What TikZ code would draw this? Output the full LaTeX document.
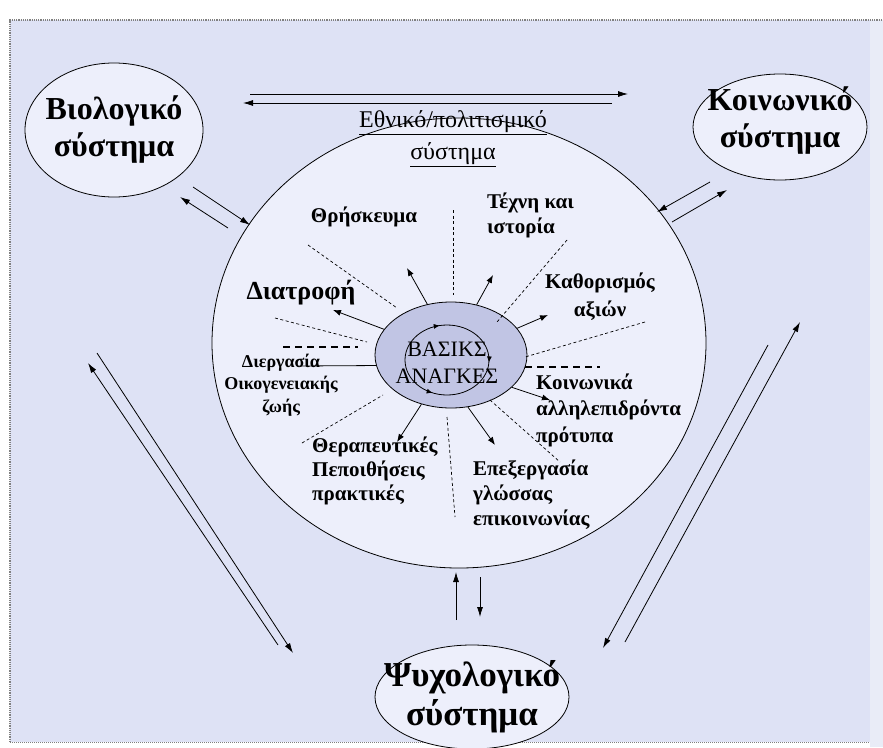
\documentclass[tikz,border=0pt]{standalone}
\usepackage{fontspec}
\setmainfont{Liberation Serif}
\usetikzlibrary{shapes.geometric, arrows.meta, decorations.markings}
\definecolor{paper}{RGB}{222,226,245}
\definecolor{paperedge}{RGB}{233,236,247}
\definecolor{lightin}{RGB}{237,239,251}
\definecolor{core}{RGB}{193,197,228}

\begin{document}
\begin{tikzpicture}[x=1pt, y=-1pt,
  sys/.style={ellipse, draw, fill=lightin, line width=0.8pt, inner sep=0pt},
  systxt/.style={align=center, font=\bfseries\fontsize{32}{37}\selectfont, inner sep=0pt},
  lbl/.style={align=left, font=\bfseries\fontsize{21}{25}\selectfont, inner sep=0pt},
  link/.style={-{Latex[length=10pt,width=6pt]}, line width=0.8pt},
  ray/.style={-{Latex[length=8pt,width=6pt]}, line width=0.8pt},
  divline/.style={dash pattern=on 3pt off 2.5pt, line width=0.7pt},
  barline/.style={dash pattern=on 7pt off 5pt, line width=1.1pt}]
  \useasboundingbox (0,0) rectangle (883,747);
  % paper
  \fill[white] (0,0) rectangle (883,747);
  \fill[paper] (10,20) rectangle (870,742);
  \fill[paperedge] (870,20) rectangle (883,747);
  \draw[gray, densely dotted, line width=1.2pt] (10,742) -- (10,20) -- (883,20);
  \draw[gray, densely dotted, line width=1pt] (10,742) -- (870,742);

  % the systems
  \node[sys, minimum width=494pt, minimum height=450pt] (ethn) at (459,343) {};
  \node[sys, fill=core, minimum width=152pt, minimum height=106pt] (basic) at (451,355) {};
  \node[sys, minimum width=178pt, minimum height=134pt] (bio) at (114,130) {};
  \node[sys, minimum width=174pt, minimum height=106pt] (koin) at (780,127) {};
  \node[sys, minimum width=194pt, minimum height=104pt] (psych) at (472,697) {};
  \node[systxt] (biotxt) at (bio) {Βιολογικό\\σύστημα};
  \node[systxt] (kointxt) at (780,121) {Κοινωνικό\\σύστημα};
  \node[systxt, font=\bfseries\fontsize{35}{39}\selectfont] (psychtxt) at (psych) {Ψυχολογικό\\σύστημα};
  \node[align=center, inner sep=0pt, font=\fontsize{24}{32}\selectfont] (title) at (453,139)
    {\underline{Εθνικό/πολιτισμικό}\\\underline{σύστημα}};

  % core with its loop
  \node[align=center, inner sep=0pt, font=\fontsize{22}{27}\selectfont] (basictxt) at (447,363) {ΒΑΣΙΚΣ\\ΑΝΑΓΚΕΣ};
  \coordinate (loopc) at (447,360);
  \draw[line width=0.8pt, decoration={markings,
      mark=at position 0.01 with {\arrow{Latex[length=6pt,width=5pt]}},
      mark=at position 0.31 with {\arrowreversed{Latex[length=6pt,width=5pt]}},
      mark=at position 0.72 with {\arrow{Latex[length=6pt,width=5pt]}}}, postaction={decorate}]
    (loopc) ellipse [x radius=42, y radius=35];

  % labels
  \node[lbl] (thr) at (364,217) {Θρήσκευμα};
  \node[lbl, anchor=west] (tex) at (487,215) {Τέχνη και\\ιστορία};
  \node[lbl, align=center, font=\bfseries\fontsize{21}{28}\selectfont] (kat) at (600,297) {Καθορισμός\\αξιών};
  \node[lbl, font=\bfseries\fontsize{26}{30}\selectfont] (dia) at (301,293) {Διατροφή};
  \node[lbl, align=center, font=\bfseries\fontsize{18}{22.5}\selectfont] (die) at (281,385) {Διεργασία\\Οικογενειακής\\ζωής};
  \node[lbl, anchor=west, font=\bfseries\fontsize{21}{26.5}\selectfont] (koi) at (536,410) {Κοινωνικά\\αλληλεπιδρόντα\\πρότυπα};
  \node[lbl, anchor=west, font=\bfseries\fontsize{21}{24}\selectfont] (the) at (312,471) {Θεραπευτικές\\Πεποιθήσεις\\πρακτικές};
  \node[lbl, anchor=west] (epe) at (473,495) {Επεξεργασία\\γλώσσας\\επικοινωνίας};

  % dividers
  \foreach \xa/\ya/\xb/\yb in {308/245/397/308, 453/210/453/295, 567/240/497/322, 275/318/367/342,
      645/322/525/357, 302/443/383/395, 447/417/455/517, 490/400/560/462}
    \draw[divline] (\xa,\ya) -- (\xb,\yb);
  \draw[barline] (283,347) -- (358,347);
  \draw[barline] (525,367) -- (600,367);

  % rays out of the core
  \coordinate (rThr) at (407,268);
  \coordinate (rTex) at (493,275);
  \coordinate (rKat) at (548,315);
  \coordinate (rDia) at (333,310);
  \coordinate (rKoi) at (550,400);
  \coordinate (rThe) at (397,442);
  \coordinate (rEpe) at (495,445);
  \coordinate (rDie) at (297,366);
  \draw[ray] (basic.115) -- (rThr);
  \draw[ray] (basic.63) -- (rTex);
  \draw[ray] (basic.22) -- (rKat);
  \draw[ray] (basic.159) -- (rDia);
  \draw[ray] (basic.-28) -- (rKoi);
  \draw[ray] (basic.-121) -- (rThe);
  \draw[ray] (basic.-72) -- (rEpe);
  \draw[line width=0.8pt] (basic.-172) -- (rDie);

  % links between the systems
  \coordinate (bk1) at (250,94);  \coordinate (bk2) at (628,94);
  \coordinate (kb1) at (612,103); \coordinate (kb2) at (243,103);
  \coordinate (be1) at (193,187); \coordinate (be2) at (250,225);
  \coordinate (eb1) at (228,228); \coordinate (eb2) at (180,197);
  \coordinate (ke1) at (710,182); \coordinate (ke2) at (657,212);
  \coordinate (ek1) at (672,222); \coordinate (ek2) at (727,190);
  \coordinate (bp1) at (97,353);  \coordinate (bp2) at (293,653);
  \coordinate (pb1) at (278,645); \coordinate (pb2) at (88,363);
  \coordinate (kp1) at (768,345); \coordinate (kp2) at (603,648);
  \coordinate (pk1) at (625,642); \coordinate (pk2) at (800,322);
  \coordinate (pe1) at (456,620); \coordinate (pe2) at (456,572);
  \coordinate (ep1) at (480,577); \coordinate (ep2) at (480,617);
  \draw[link] (bk1) -- (bk2);
  \draw[link] (kb1) -- (kb2);
  \draw[link] (be1) -- (be2);
  \draw[link] (eb1) -- (eb2);
  \draw[link] (ke1) -- (ke2);
  \draw[link] (ek1) -- (ek2);
  \draw[link] (bp1) -- (bp2);
  \draw[link] (pb1) -- (pb2);
  \draw[link] (kp1) -- (kp2);
  \draw[link] (pk1) -- (pk2);
  \draw[link] (pe1) -- (pe2);
  \draw[link] (ep1) -- (ep2);
\end{tikzpicture}
\end{document}
